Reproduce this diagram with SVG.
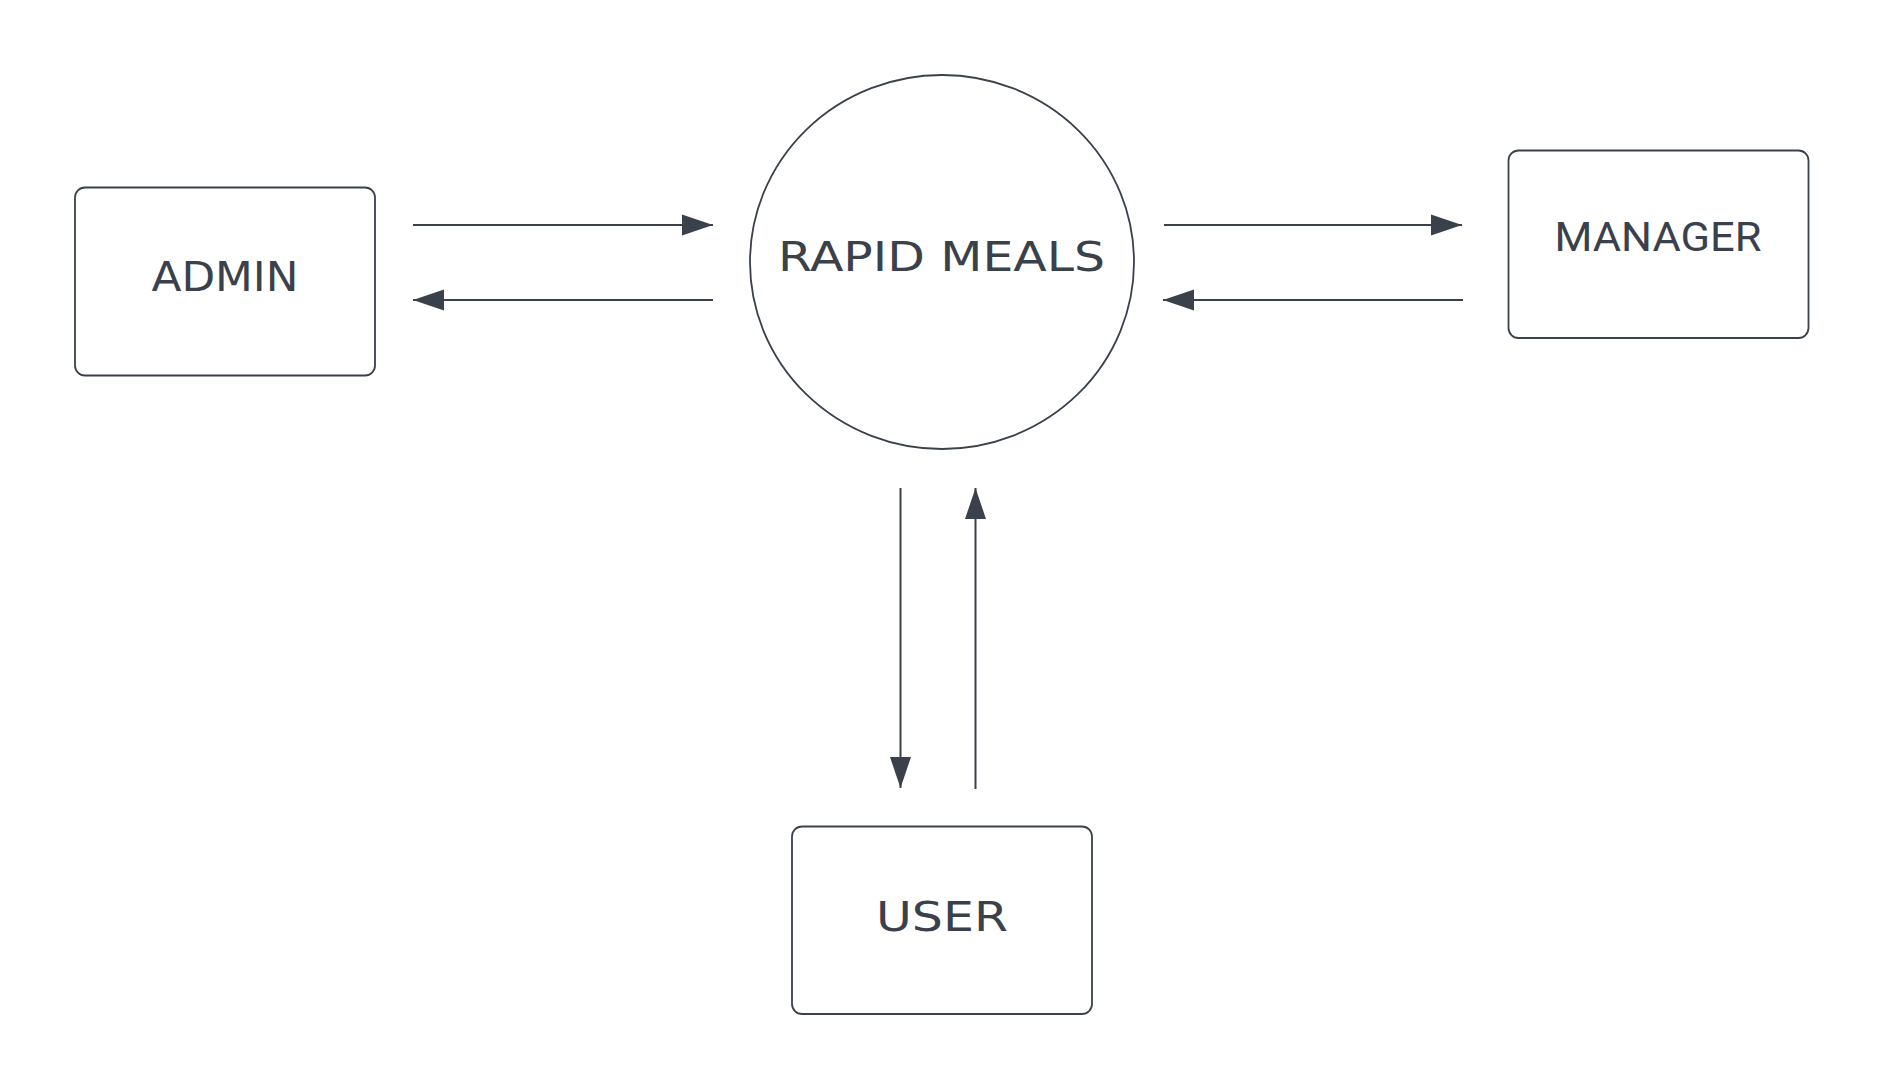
<svg xmlns="http://www.w3.org/2000/svg" width="1884" height="1088" viewBox="0 0 1884 1088">
<style>
.shape{fill:#ffffff;stroke:#3a414a;stroke-width:1.8}
.conn{fill:none;stroke:#3a414a;stroke-width:2}
.sq{font-family:"DejaVu Sans","Liberation Sans",sans-serif;font-size:41px;fill:#3a414a;text-anchor:middle}
.reg{font-family:Roboto,"Liberation Sans",sans-serif;font-size:40px;fill:#3a414a;text-anchor:middle}
</style>
<defs>
<marker id="arr" markerUnits="userSpaceOnUse" markerWidth="31" markerHeight="22" refX="31" refY="11" orient="auto" viewBox="0 0 31 22">
<path d="M0,0.5 L31,11 L0,21.5 Z" fill="#3a414a"/>
</marker>
</defs>
<rect width="1884" height="1088" fill="#ffffff"/>
<g id="admin">
<rect class="shape" x="75" y="187.5" width="300" height="188" rx="10"/>
<text class="sq" x="225" y="291" textLength="147" lengthAdjust="spacingAndGlyphs">ADMIN</text>
</g>
<g id="rapid-meals">
<ellipse class="shape" cx="942" cy="262" rx="192" ry="187"/>
<text class="sq" x="941.5" y="271" textLength="327" lengthAdjust="spacingAndGlyphs">RAPID MEALS</text>
</g>
<g id="manager">
<rect class="shape" x="1508.5" y="150.5" width="300" height="187.5" rx="10"/>
<text class="reg" x="1658" y="251" textLength="207" lengthAdjust="spacingAndGlyphs">MANAGER</text>
</g>
<g id="user">
<rect class="shape" x="792" y="826.5" width="300" height="187.5" rx="10"/>
<text class="sq" x="942" y="931" textLength="132" lengthAdjust="spacingAndGlyphs">USER</text>
</g>
<g id="connectors">
<line class="conn" x1="413" y1="225" x2="713" y2="225" marker-end="url(#arr)"/>
<line class="conn" x1="713" y1="300" x2="413" y2="300" marker-end="url(#arr)"/>
<line class="conn" x1="1164" y1="225" x2="1462" y2="225" marker-end="url(#arr)"/>
<line class="conn" x1="1463" y1="300" x2="1163" y2="300" marker-end="url(#arr)"/>
<line class="conn" x1="900.5" y1="488" x2="900.5" y2="788" marker-end="url(#arr)"/>
<line class="conn" x1="975.5" y1="789" x2="975.5" y2="488" marker-end="url(#arr)"/>
</g>
</svg>
